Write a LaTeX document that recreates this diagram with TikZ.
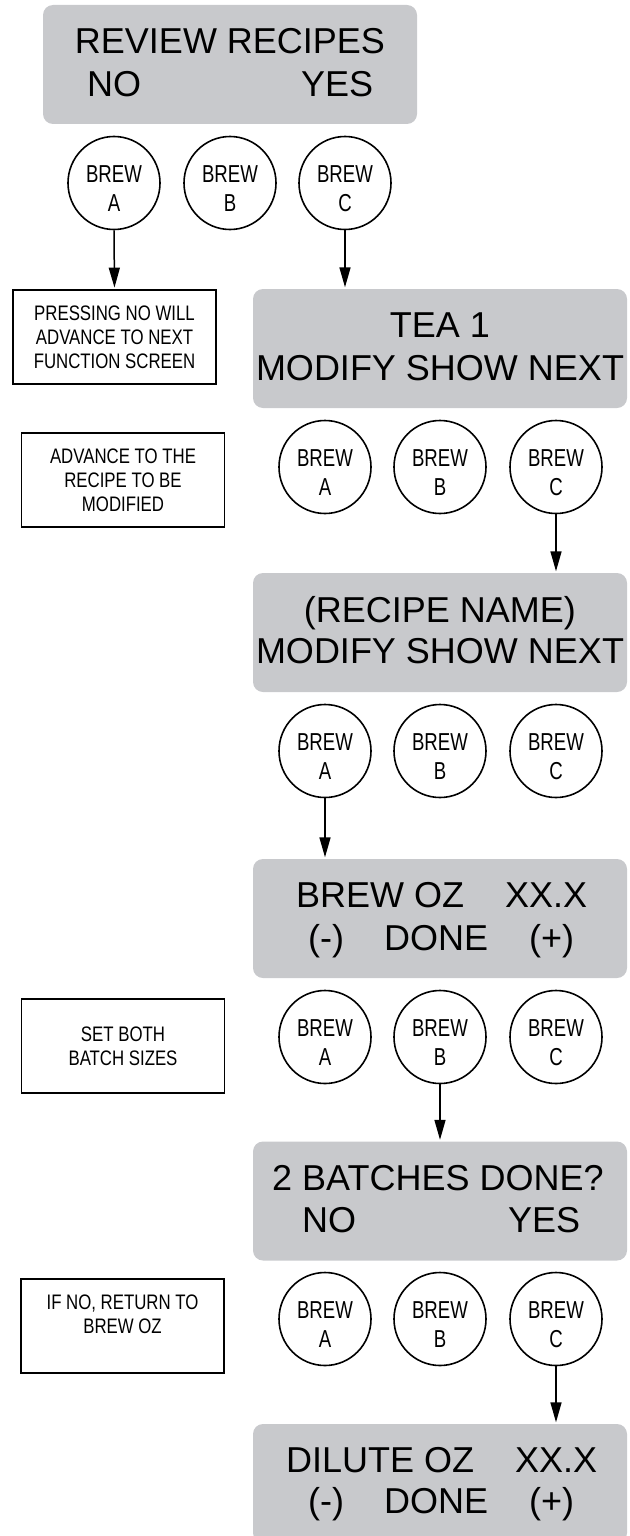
\documentclass[tikz,border=0pt]{standalone}
\usepackage{fontspec}
\setmainfont{Liberation Sans}
\newfontfamily\condfont[FakeStretch=0.8]{Liberation Sans}
\newfontfamily\btnfont[FakeStretch=0.76]{Liberation Sans}
\usetikzlibrary{arrows.meta,shapes.geometric}
\definecolor{scrgray}{RGB}{200,201,204}
\begin{document}
\begin{tikzpicture}[x=1pt,y=-1pt,
  screen/.style={fill=scrgray, rounded corners=10pt, minimum width=374pt, minimum height=119pt, inner sep=0pt},
  lcd/.style={font=\fontsize{36}{43}\selectfont, inner sep=0pt, anchor=base west},
  lcdc/.style={font=\fontsize{36}{43}\selectfont, inner sep=0pt, anchor=base},
  btn/.style={draw, line width=1.6pt, ellipse, minimum width=92pt, minimum height=93pt, inner sep=0pt},
  btntxt/.style={font=\btnfont\fontsize{24.5}{29}\selectfont, align=center, inner sep=0pt},
  note/.style={draw, line width=1.8pt, minimum width=203pt, minimum height=94pt, inner sep=0pt, align=center, font=\condfont\fontsize{21}{24}\selectfont},
  flow/.style={line width=1.5pt, -{Triangle[length=20pt,width=11pt]}, shorten >=1.5pt}
]
\useasboundingbox (0,0) rectangle (629,1536);
\clip (0,0) rectangle (629,1536);

% ---------- screen 1
\node[screen] (s1) at (230,64.5) {};
\node[lcdc] (s1a) at (230,54) {REVIEW RECIPES};
\node[lcd] (s1b) at (87,97) {NO};
\node[lcd] (s1c) at (301,97) {YES};

% ---------- buttons row 1
\node[btn] (r1a) at (114,183) {};
\node[btn] (r1b) at (230,183) {};
\node[btn] (r1c) at (345,183) {};
\node[btntxt] (r1at) at (114,189) {BREW\\A};
\node[btntxt] (r1bt) at (230,189) {BREW\\B};
\node[btntxt] (r1ct) at (345,189) {BREW\\C};

% ---------- note 1
\node[note] (n1) at (114.5,337) {PRESSING NO WILL\\ADVANCE TO NEXT\\FUNCTION SCREEN};

% ---------- screen 2
\node[screen] (s2) at (440,348.5) {};
\node[lcdc] (s2a) at (440,337) {TEA 1};
\node[lcdc] (s2b) at (440,380) {MODIFY SHOW NEXT};

% ---------- note 2 + buttons row 2
\node[note] (n2) at (123,480) {ADVANCE TO THE\\RECIPE TO BE\\MODIFIED};
\node[btn] (r2a) at (325,467) {};
\node[btn] (r2b) at (440,467) {};
\node[btn] (r2c) at (556,467) {};
\node[btntxt] (r2at) at (325,473) {BREW\\A};
\node[btntxt] (r2bt) at (440,473) {BREW\\B};
\node[btntxt] (r2ct) at (556,473) {BREW\\C};

% ---------- screen 3
\node[screen] (s3) at (440,632.5) {};
\node[lcdc] (s3a) at (440,622) {(RECIPE NAME)};
\node[lcdc] (s3b) at (440,663) {MODIFY SHOW NEXT};

% ---------- buttons row 3
\node[btn] (r3a) at (325,751) {};
\node[btn] (r3b) at (440,751) {};
\node[btn] (r3c) at (556,751) {};
\node[btntxt] (r3at) at (325,757) {BREW\\A};
\node[btntxt] (r3bt) at (440,757) {BREW\\B};
\node[btntxt] (r3ct) at (556,757) {BREW\\C};

% ---------- screen 4
\node[screen] (s4) at (440,918.5) {};
\node[lcd] (s4a) at (296,907) {BREW OZ};
\node[lcd] (s4b) at (505,907) {XX.X};
\node[lcd] (s4c) at (308,950) {(-)};
\node[lcd] (s4d) at (384,950) {DONE};
\node[lcd] (s4e) at (529,950) {(+)};

% ---------- note 3 + buttons row 4
\node[note] (n3) at (123,1046) {SET BOTH\\BATCH SIZES};
\node[btn] (r4a) at (325,1037) {};
\node[btn] (r4b) at (440,1037) {};
\node[btn] (r4c) at (556,1037) {};
\node[btntxt] (r4at) at (325,1043) {BREW\\A};
\node[btntxt] (r4bt) at (440,1043) {BREW\\B};
\node[btntxt] (r4ct) at (556,1043) {BREW\\C};

% ---------- screen 5
\node[screen] (s5) at (440,1201) {};
\node[lcd] (s5a) at (272,1190) {2 BATCHES DONE?};
\node[lcd] (s5b) at (302,1232) {NO};
\node[lcd] (s5c) at (508,1232) {YES};

% ---------- note 4 + buttons row 5
\node[note] (n4) at (122.5,1326) {IF NO, RETURN TO\\BREW OZ\\\mbox{}};
\node[btn] (r5a) at (325,1319) {};
\node[btn] (r5b) at (440,1319) {};
\node[btn] (r5c) at (556,1319) {};
\node[btntxt] (r5at) at (325,1325) {BREW\\A};
\node[btntxt] (r5bt) at (440,1325) {BREW\\B};
\node[btntxt] (r5ct) at (556,1325) {BREW\\C};

% ---------- screen 6 (runs off the bottom)
\node[screen] (s6) at (440,1483.5) {};
\node[lcd] (s6a) at (286,1472) {DILUTE OZ};
\node[lcd] (s6b) at (515,1472) {XX.X};
\node[lcd] (s6c) at (308,1513) {(-)};
\node[lcd] (s6d) at (384,1513) {DONE};
\node[lcd] (s6e) at (529,1513) {(+)};

% ---------- connectors
\draw[flow] (r1a.south) -- (n1.north);
\draw[flow] (r1c.south) -- (r1c.south |- s2.north);
\draw[flow] (r2c.south) -- (r2c.south |- s3.north);
\draw[flow] (r3a.south) -- (r3a.south |- s4.north);
\draw[flow] (r4b.south) -- (r4b.south |- s5.north);
\draw[flow] (r5c.south) -- (r5c.south |- s6.north);
\end{tikzpicture}
\end{document}
